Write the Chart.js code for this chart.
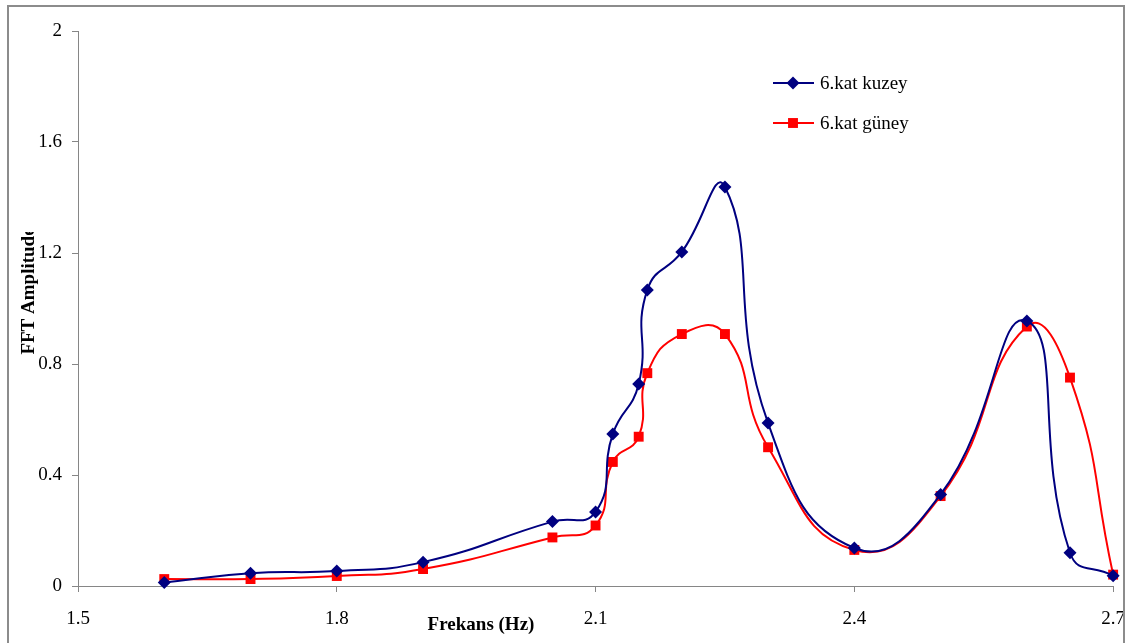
<!DOCTYPE html>
<html>
<head>
<meta charset="utf-8">
<script src="https://cdn.jsdelivr.net/npm/chart.js@4/dist/chart.umd.min.js"></script>
<style>
    html, body { margin: 0; padding: 0; background: #fff; }
    canvas { display: block; }
</style>
</head>
<body>
<canvas id="chart-fft" width="1141" height="643"></canvas>
<script>
// ─── Data ─────────────────────────────────────────────────────────────────────
const FREQ = [1.6, 1.7, 1.8, 1.9, 2.05, 2.1, 2.12, 2.15, 2.16, 2.2, 2.25, 2.3, 2.4, 2.5, 2.6, 2.65, 2.7];
const KUZEY = [0.013, 0.046, 0.054, 0.086, 0.232, 0.267, 0.548, 0.728, 1.067, 1.204, 1.438, 0.587, 0.137, 0.330, 0.955, 0.120, 0.037];
const GUNEY = [0.025, 0.025, 0.036, 0.061, 0.175, 0.218, 0.447, 0.538, 0.767, 0.908, 0.908, 0.500, 0.130, 0.324, 0.935, 0.751, 0.041];
const SERIES_LABELS = ["6.kat kuzey", "6.kat güney"];
const X_TICKS = [1.5, 1.8, 2.1, 2.4, 2.7];
const Y_TICKS = [0, 0.4, 0.8, 1.2, 1.6, 2];
const X_TITLE = "Frekans (Hz)";
const Y_TITLE = "FFT Amplitude";

const SERIF = "'Liberation Serif', 'Times New Roman', serif";
const AXIS_GREY = "#868686";

// ─── Markers ──────────────────────────────────────────────────────────────────
function drawMarker(ctx, style, x, y, r, color) {
    ctx.save();
    ctx.fillStyle = color;
    ctx.beginPath();
    if (style === "rectRot") {
        ctx.moveTo(x, y - r);
        ctx.lineTo(x + r, y);
        ctx.lineTo(x, y + r);
        ctx.lineTo(x - r, y);
    } else {
        const h = r * Math.SQRT1_2;
        ctx.rect(x - h, y - h, 2 * h, 2 * h);
    }
    ctx.closePath();
    ctx.fill();
    ctx.restore();
}

// ─── Decorations: frame, titles, legend ───────────────────────────────────────
const decorations = {
    id: "decorations",
    afterDraw(chart) {
        const ctx = chart.ctx;
        ctx.save();

        // outer frame (bottom edge falls outside the picture)
        ctx.strokeStyle = "#8c8c8c";
        ctx.lineWidth = 2;
        ctx.beginPath();
        ctx.moveTo(8, 643);
        ctx.lineTo(8, 6);
        ctx.lineTo(1124, 6);
        ctx.lineTo(1124, 643);
        ctx.stroke();

        // axis titles
        ctx.fillStyle = "#000";
        ctx.font = "bold 19px " + SERIF;
        ctx.textAlign = "center";
        ctx.textBaseline = "middle";
        ctx.fillText(X_TITLE, 481, 625);

        ctx.save();
        ctx.beginPath();
        ctx.rect(0, 232, 70, 400);
        ctx.clip();
        ctx.translate(29, 291);
        ctx.rotate(-Math.PI / 2);
        ctx.fillText(Y_TITLE, 0, 0);
        ctx.restore();

        // legend
        ctx.font = "19px " + SERIF;
        ctx.textAlign = "left";
        chart.data.datasets.forEach((ds, i) => {
            const y = 83 + i * 40;
            ctx.strokeStyle = ds.borderColor;
            ctx.lineWidth = 2;
            ctx.beginPath();
            ctx.moveTo(773, y);
            ctx.lineTo(814, y);
            ctx.stroke();
            drawMarker(ctx, ds.pointStyle, 793, y, ds.pointRadius, ds.pointBackgroundColor);
            ctx.fillStyle = "#000";
            ctx.fillText(ds.label, 820, y + 1);
        });

        ctx.restore();
    },
};

// ─── Chart ────────────────────────────────────────────────────────────────────
const toPoints = (ys) => ys.map((y, i) => ({ x: FREQ[i], y }));

new Chart(document.getElementById("chart-fft"), {
    type: "line",
    data: {
        datasets: [
            {
                label: SERIES_LABELS[0],
                data: toPoints(KUZEY),
                borderColor: "#000080",
                backgroundColor: "#000080",
                pointBackgroundColor: "#000080",
                pointBorderWidth: 0,
                pointStyle: "rectRot",
                pointRadius: 6.5,
                borderWidth: 2,
                tension: 0.5,
                clip: false,
            },
            {
                label: SERIES_LABELS[1],
                data: toPoints(GUNEY),
                borderColor: "#ff0000",
                backgroundColor: "#ff0000",
                pointBackgroundColor: "#ff0000",
                pointBorderWidth: 0,
                pointStyle: "rect",
                pointRadius: 7,
                borderWidth: 2,
                tension: 0.5,
                clip: false,
            },
        ],
    },
    options: {
        responsive: false,
        animation: false,
        layout: { padding: { left: 0, top: 31, right: 24, bottom: 0 } },
        plugins: { legend: { display: false }, tooltip: { enabled: false } },
        scales: {
            x: {
                type: "linear",
                min: X_TICKS[0],
                max: X_TICKS[X_TICKS.length - 1],
                afterBuildTicks: (s) => { s.ticks = X_TICKS.map((v) => ({ value: v })); },
                afterFit: (s) => { s.height = 57; },
                ticks: {
                    color: "#000",
                    padding: 16,
                    maxRotation: 0,
                    font: { family: SERIF, size: 19 },
                    callback: (v) => String(v),
                },
                grid: { drawOnChartArea: false, color: AXIS_GREY, tickLength: 6 },
                border: { color: AXIS_GREY, width: 1 },
            },
            y: {
                min: Y_TICKS[0],
                max: Y_TICKS[Y_TICKS.length - 1],
                afterBuildTicks: (s) => { s.ticks = Y_TICKS.map((v) => ({ value: v })); },
                afterFit: (s) => { s.width = 78; },
                ticks: {
                    color: "#000",
                    padding: 10,
                    font: { family: SERIF, size: 19 },
                    callback: (v) => String(v),
                },
                grid: { drawOnChartArea: false, color: AXIS_GREY, tickLength: 6 },
                border: { color: AXIS_GREY, width: 1 },
            },
        },
    },
    plugins: [decorations],
});
</script>
</body>
</html>
